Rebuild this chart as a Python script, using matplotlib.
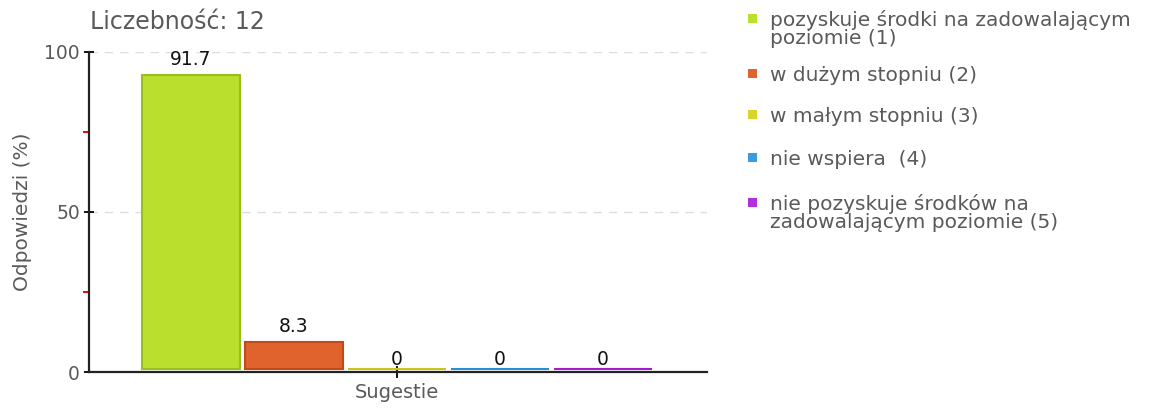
import matplotlib
matplotlib.use("Agg")
import matplotlib.pyplot as plt
from matplotlib.patches import Rectangle

# data
categories = ["pozyskuje środki na zadowalającym\npoziomie (1)",
              "w dużym stopniu (2)",
              "w małym stopniu (3)",
              "nie wspiera  (4)",
              "nie pozyskuje środków na\nzadowalającym poziomie (5)"]
values = [91.7, 8.3, 0, 0, 0]
value_labels = ["91.7", "8.3", "0", "0", "0"]
colors = ["#bbdf2d", "#e0622c", "#d8d42a", "#3a9be0", "#b42ee0"]
edges = ["#98c01c", "#c04a1a", "#c8c41a", "#2a8bd0", "#a01ed0"]
group_label = "Sugestie"
count_text = "Liczebność: 12"

plt.rcParams["font.family"] = ["DejaVu Sans"]
gray = "#5a5a5a"
W, H = 1157, 409

fig = plt.figure(figsize=(11.57, 4.09), dpi=100)
ax = fig.add_axes([89 / W, 1 - 372 / H, 618 / W, 320 / H])

xs = list(range(len(values)))
ax.bar(xs, values, width=0.95, color=colors, edgecolor=edges, linewidth=1.5,
       bottom=1.0, zorder=3)
for x, v, lab in zip(xs, values, value_labels):
    off = 6 if v > 0 else 0
    ax.annotate(lab, (x, v + 1.0), xytext=(0, off), textcoords="offset pixels",
                ha="center", va="bottom", fontsize=13.5, color="#111111")

ax.set_xlim(-0.99, 5.01)
ax.set_ylim(0, 100)
ax.set_xticks([2])
ax.set_xticklabels([group_label], fontsize=14, color=gray)
ax.set_yticks([0, 50, 100])
ax.set_yticklabels(["0", "50", "100"], fontsize=13.5, color=gray)
ax.set_yticks([25, 75], minor=True)
ax.tick_params(axis="y", which="major", direction="inout", length=7, width=1.3, colors="black",
               labelcolor=gray, pad=3)
ax.tick_params(axis="y", which="minor", direction="out", length=4, width=1.4, colors="#ff0000")
ax.tick_params(axis="x", direction="inout", length=8, width=1.3, colors="black",
               labelcolor=gray, pad=4)
ax.set_ylabel("Odpowiedzi (%)", fontsize=14.5, color=gray, labelpad=9)
for s in ["top", "right"]:
    ax.spines[s].set_visible(False)
ax.spines["left"].set_linewidth(1.6)
ax.spines["bottom"].set_linewidth(1.6)
ax.spines["left"].set_color("#222222")
ax.spines["bottom"].set_color("#222222")
ax.spines["left"].set_zorder(4)
ax.yaxis.grid(True, which="major", linestyle=(0, (6, 5)), color="#dddddd", linewidth=1)
ax.set_axisbelow(True)

fig.text(90 / W, 1 - 22 / H, count_text, fontsize=17, color=gray, va="center", ha="left")

# legend drawn by hand: first-line baselines in pixels
baselines = [26, 81, 122, 165, 210]
line_step = 18
for lab, c, yb in zip(categories, colors, baselines):
    fig.patches.append(Rectangle((748 / W, 1 - (yb - 3) / H), 9 / W, 9 / H,
                                 transform=fig.transFigure, facecolor=c, edgecolor="none"))
    for i, line in enumerate(lab.split("\n")):
        fig.text(770 / W, 1 - (yb + i * line_step) / H, line, fontsize=14.5, color=gray,
                 va="baseline", ha="left")

fig.savefig("out.png", dpi=100)
